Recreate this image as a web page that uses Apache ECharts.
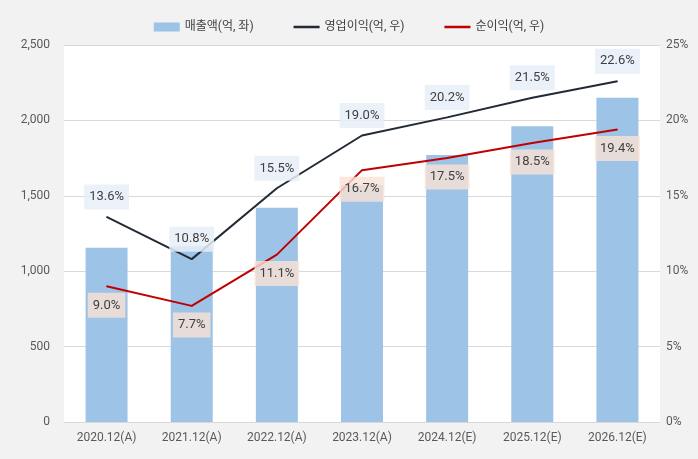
<!DOCTYPE html>
<html>
<head>
<meta charset="utf-8">
<script src="https://cdn.jsdelivr.net/npm/echarts@6/dist/echarts.min.js"></script>
<style>
html,body{margin:0;padding:0;background:#f2f2f2;}
#c{width:698px;height:459px;}
</style>
</head>
<body>
<div id="c"></div>
<script>
const categories = ['2020.12(A)','2021.12(A)','2022.12(A)','2023.12(A)','2024.12(E)','2025.12(E)','2026.12(E)'];
const revenue = [1155, 1165, 1420, 1570, 1770, 1962, 2150];
const opMargin = [13.6, 10.8, 15.5, 19.0, 20.2, 21.5, 22.6];
const netMargin = [9.0, 7.7, 11.1, 16.7, 17.5, 18.5, 19.4];
const seriesNames = ['매출액(억, 좌)', '영업이익(억, 우)', '순이익(억, 우)'];

const font = 'Roboto, "Noto Sans CJK KR", sans-serif';
const lineIcon = 'path://M0,0 L26,0 L26,0.01 Z M0,3.2 L26,3.2 L26,5.8 L0,5.8 Z M0,8.99 L26,8.99 L26,9 Z';
const chart = echarts.init(document.getElementById('c'));
chart.setOption({
  backgroundColor: '#f2f2f2',
  textStyle: {fontFamily: font},
  legend: {
    top: 16, left: 'center', itemGap: 40, itemWidth: 26, itemHeight: 9,
    textStyle: {color: '#404040', fontSize: 12, fontFamily: font},
    data: [
      {name: seriesNames[0], icon: 'rect'},
      {name: seriesNames[1], icon: lineIcon, itemStyle: {color: '#222a35'}},
      {name: seriesNames[2], icon: lineIcon, itemStyle: {color: '#c00000'}}
    ]
  },
  grid: {left: 64, right: 38, top: 45, bottom: 37, show: true, backgroundColor: '#ffffff', borderWidth: 0},
  xAxis: {
    type: 'category', data: categories,
    axisLine: {lineStyle: {color: '#d9d9d9'}},
    axisTick: {show: false},
    axisLabel: {color: '#595959', fontSize: 12, margin: 10}
  },
  yAxis: [
    {type: 'value', min: 0, max: 2500, interval: 500,
     axisLine: {show: false}, axisTick: {show: false},
     splitLine: {lineStyle: {color: '#d9d9d9'}},
     axisLabel: {color: '#595959', fontSize: 12, margin: 14,
       formatter: v => v.toLocaleString('en-US')}},
    {type: 'value', min: 0, max: 25, interval: 5,
     axisLine: {show: false}, axisTick: {show: false},
     splitLine: {show: false},
     axisLabel: {color: '#595959', fontSize: 12, margin: 6, formatter: '{value}%'}}
  ],
  series: [
    {name: seriesNames[0], type: 'bar', data: revenue, barWidth: 42,
     itemStyle: {color: '#9dc3e6'}, z: 1},
    {name: seriesNames[1], type: 'line', yAxisIndex: 1, data: opMargin,
     symbol: 'circle', symbolSize: 1, showSymbol: true,
     lineStyle: {color: '#222a35', width: 2}, itemStyle: {color: '#222a35'}, z: 3,
     label: {show: true, position: 'top', distance: 7, formatter: p => p.value.toFixed(1) + '%',
       color: '#404040', fontSize: 13, backgroundColor: 'rgba(232,238,248,0.85)', padding: [6, 5]}},
    {name: seriesNames[2], type: 'line', yAxisIndex: 1, data: netMargin,
     symbol: 'circle', symbolSize: 1, showSymbol: true,
     lineStyle: {color: '#c00000', width: 2}, itemStyle: {color: '#c00000'}, z: 3,
     label: {show: true, position: 'bottom', distance: 6, formatter: p => p.value.toFixed(1) + '%',
       color: '#404040', fontSize: 13, backgroundColor: 'rgba(250,226,212,0.8)', padding: [6, 5]}}
  ]
});
</script>
</body>
</html>
